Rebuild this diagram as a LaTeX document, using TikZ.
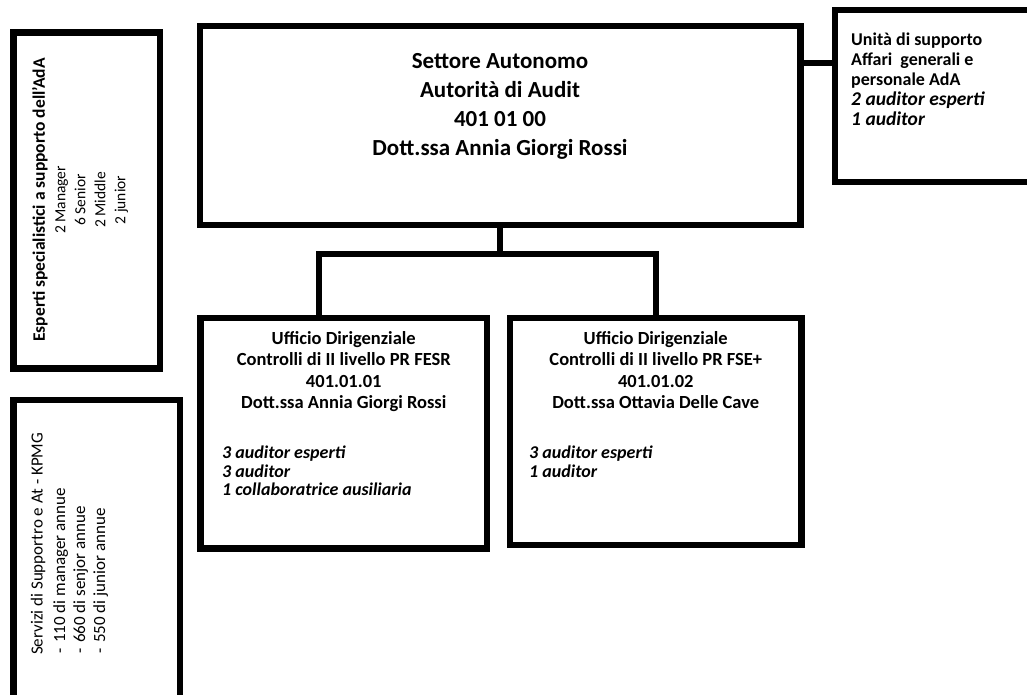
\documentclass[tikz,border=0pt]{standalone}
\usepackage{fontspec}
\setmainfont{Carlito}
\usetikzlibrary{positioning}

\begin{document}
\begin{tikzpicture}[x=1pt, y=1pt,
    box/.style={rectangle, draw, line width=6.5pt, inner sep=0pt},
    link/.style={line width=6pt},
    maintext/.style={align=center, inner sep=0pt, font=\bfseries\fontsize{23}{29}\selectfont},
    headtext/.style={align=center, inner sep=0pt, font=\bfseries\fontsize{18.5}{21.5}\selectfont},
    stafftext/.style={align=left, inner sep=0pt, font=\bfseries\itshape\fontsize{18}{18.5}\selectfont},
    supptext/.style={align=left, inner sep=0pt, font=\bfseries\fontsize{18}{20}\selectfont},
    sidetitle/.style={rotate=90, inner sep=0pt, font=\bfseries\fontsize{17.5}{20}\selectfont},
    sidelist/.style={rotate=90, align=center, inner sep=0pt, font=\fontsize{15.5}{20}\selectfont},
    kpmgtext/.style={rotate=90, align=left, inner sep=0pt, font=\fontsize{17}{20}\selectfont}
]
\useasboundingbox (0,0) rectangle (1027,-695);
\clip (0,0) rectangle (1027,-695);

% boxes
\node[box, minimum width=600.5, minimum height=199] (aut) at (500,-125.5) {};
\node[box, minimum width=215, minimum height=172] (supp) at (942.5,-96) {};
\node[box, minimum width=286.5, minimum height=230.5] (fesr) at (343.75,-433.25) {};
\node[box, minimum width=291.5, minimum height=227] (fse) at (655.75,-431.5) {};
\node[box, minimum width=146.5, minimum height=336] (esp) at (86.75,-200.5) {};
\node[box, minimum width=166.5, minimum height=330] (kpmg) at (96.75,-565) {};

% texts
\node[maintext] (auttext) at (500,-106.5) {Settore Autonomo\\Autorità di Audit\\401 01 00\\Dott.ssa Annia Giorgi Rossi};
\node[supptext, anchor=north west] (supptext) at (851,-33) {Unità di supporto\\Affari\ \ generali e\\personale AdA\\{\fontsize{19.5}{20}\selectfont\itshape 2 auditor esperti}\\{\fontsize{19.5}{20}\selectfont\itshape 1 auditor}};

\node[headtext, below=16.5pt of fesr.north] (fesrhead) {Ufficio Dirigenziale\\Controlli di II livello PR FESR\\401.01.01\\Dott.ssa Annia Giorgi Rossi};
\node[stafftext, anchor=north west] (fesrstaff) at (222,-446) {3 auditor esperti\\3 auditor\\1 collaboratrice ausiliaria};

\node[headtext, below=16.5pt of fse.north] (fsehead) {Ufficio Dirigenziale\\Controlli di II livello PR FSE+\\401.01.02\\Dott.ssa Ottavia Delle Cave};
\node[stafftext, anchor=north west] (fsestaff) at (529,-446) {3 auditor esperti\\1 auditor};

\node[sidetitle] (esptitle) at (40,-200) {Esperti specialistici a supporto dell'AdA};
\node[sidelist, anchor=north] (esplist) at (55,-200) {2 Manager\\6 Senior\\2 Middle\\2 junior};

\node[kpmgtext, anchor=west] (kpmgtitle) at (38,-655) {Servizi di Supportro e At - KPMG};
\node[kpmgtext, anchor=north west] (kpmglist) at (53,-654) {\makebox[11pt][l]{-}110 di manager annue\\\makebox[11pt][l]{-}660 di senjor annue\\\makebox[11pt][l]{-}550 di junior annue};

% connectors
\coordinate (hook) at (0,-63);
\coordinate (busL) at (319,-254);
\coordinate (busR) at (656,-254);
\draw[link] (aut.east |- hook) -- (supp.west |- hook);
\draw[link] (aut.south) -- (aut.south |- busL);
\draw[link] (busL |- fesr.north) -- (busL) -- (busR) -- (busR |- fse.north);
\end{tikzpicture}
\end{document}
